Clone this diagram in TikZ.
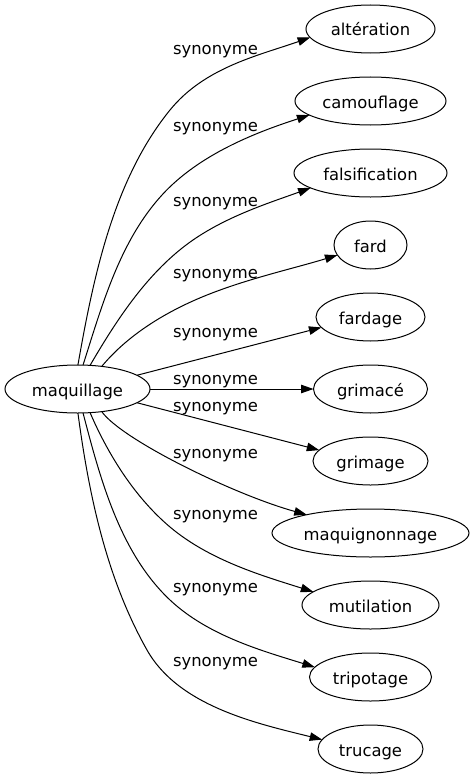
\documentclass[tikz,border=0pt]{standalone}
\usepackage{fontspec}
\setmainfont{DejaVu Sans}
\usetikzlibrary{arrows.meta,shapes.geometric}
\begin{document}
\begin{tikzpicture}[x=1bp,y=-1bp,
  every node/.style={font=\fontsize{16.4bp}{19bp}\selectfont},
  term/.style={draw, ellipse, line width=1bp, inner sep=0pt, outer sep=0pt,
    minimum height=48bp, text height=14bp, text depth=0bp},
  lbl/.style={anchor=base, inner sep=0pt},
  syn/.style={draw, line width=1bp, -{Triangle[length=12.5bp,width=8.5bp]}}
]
\useasboundingbox (0,0) rectangle (473,779);
% nodes
\node[term, minimum width=145bp] (maq) at (77.5,389) {maquillage};
\node[term, minimum width=129bp] (alt) at (370.5,29) {altération};
\node[term, minimum width=151bp] (cam) at (370.5,101) {camouflage};
\node[term, minimum width=153bp] (fal) at (370.5,173) {falsification};
\node[term, minimum width=73bp]  (fard) at (370.5,245) {fard};
\node[term, minimum width=109bp] (fdg) at (370.5,317) {fardage};
\node[term, minimum width=114bp] (grc) at (370.5,389) {grimacé};
\node[term, minimum width=115bp] (grg) at (370.5,461) {grimage};
\node[term, minimum width=197bp] (mqg) at (370.5,533) {maquignonnage};
\node[term, minimum width=137bp] (mut) at (370.5,605) {mutilation};
\node[term, minimum width=122bp] (trp) at (370.5,677) {tripotage};
\node[term, minimum width=105bp] (trc) at (370.5,749) {trucage};
% labels
\node[lbl] (l1) at (215.5,55) {synonyme};
\node[lbl] (l2) at (215.5,131) {synonyme};
\node[lbl] (l3) at (215.5,206) {synonyme};
\node[lbl] (l4) at (215.5,278) {synonyme};
\node[lbl] (l5) at (215.5,337) {synonyme};
\node[lbl] (l6) at (215.5,384) {synonyme};
\node[lbl] (l7) at (215.5,411) {synonyme};
\node[lbl] (l8) at (215.5,458) {synonyme};
\node[lbl] (l9) at (215.5,519) {synonyme};
\node[lbl] (l10) at (215.5,592) {synonyme};
\node[lbl] (l11) at (215.5,666) {synonyme};
% edges
\draw[syn] (maq.89) .. controls (93.4,277.3) and (113.3,179.8) .. (170,110)
  .. controls (204.7,67.3) and (258.6,55.5) .. (alt.188.6);
\draw[syn] (maq.77) .. controls (101.9,305.9) and (119.5,241.5) .. (162,195)
  .. controls (199.1,154.4) and (255.8,132.4) .. (cam.193);
\draw[syn] (maq.62) .. controls (117,319.2) and (148.6,270.7) .. (193,240)
  .. controls (228.4,215.6) and (270.3,202.5) .. (fal.194);
\draw[syn] (maq.43) .. controls (128.9,333.7) and (168,310.6) .. (207,295)
  .. controls (248.8,278.3) and (294.1,268.4) .. (fard.197);
\draw[syn] (maq.13) -- (fdg.192);
\draw[syn] (maq.0) -- (grc.180);
\draw[syn] (maq.-13) -- (grg.168);
\draw[syn] (maq.-43) .. controls (122,440) and (235,495) .. (mqg.164.5);
\draw[syn] (maq.-62) .. controls (108.4,455.2) and (134.9,497.3) .. (170,527)
  .. controls (209.7,560.5) and (263.5,576.1) .. (mut.167.3);
\draw[syn] (maq.-77) .. controls (100.25,478.8) and (119.8,552.7) .. (170,600)
  .. controls (208.6,636.3) and (264.4,651.4) .. (trp.170);
\draw[syn] (maq.-89) .. controls (88.8,494.2) and (106.2,577.7) .. (147,650)
  .. controls (178.9,706.6) and (258.1,723.75) .. (trc.169.5);
\end{tikzpicture}
\end{document}
